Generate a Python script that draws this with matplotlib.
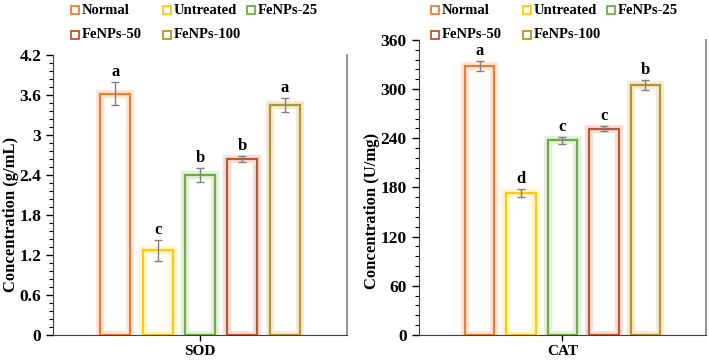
"""Bar charts of SOD and CAT concentration for each treatment group."""

import matplotlib

matplotlib.use("Agg")
import matplotlib.pyplot as plt
from matplotlib.lines import Line2D
from matplotlib.ticker import FuncFormatter, MultipleLocator

plt.rcParams["font.family"] = ["Liberation Serif", "DejaVu Serif"]
plt.rcParams["font.weight"] = "bold"

groups = ["Normal", "Untreated", "FeNPs-25", "FeNPs-50", "FeNPs-100"]
colors = ["#ED7D31", "#FFCC00", "#70AD47", "#C0552E", "#B8932A"]

sod_values = [3.62, 1.27, 2.40, 2.64, 3.45]
sod_errors = [0.17, 0.16, 0.10, 0.05, 0.11]
sod_letters = ["a", "c", "b", "b", "a"]

cat_values = [328.5, 173.5, 237.5, 251.5, 305.5]
cat_errors = [6.0, 5.0, 4.0, 3.0, 6.0]
cat_letters = ["a", "d", "c", "c", "b"]

offsets = [-2, -1, 0, 1, 2]
step = 0.144
width = 0.102

W, H = 709, 362
# legend grid (pixels from the panel's left figure edge / figure top)
legend_cols = [75, 167, 251]
legend_rows = [10, 35]


def draw_panel(ax, values, errors, letters, label, ylabel, ymax, major, minor, letter_pad,
               label_xy):
    xs = [o * step for o in offsets]
    # soft glow behind each bar outline
    ax.bar(xs, values, width=width, facecolor="none", edgecolor=colors, linewidth=6, alpha=0.18)
    ax.bar(xs, values, width=width, facecolor="none", edgecolor=colors, linewidth=1.6)
    ax.errorbar(xs, values, yerr=errors, fmt="none", ecolor="#808080", elinewidth=1,
                capsize=3, capthick=1)
    for x, v, e, t in zip(xs, values, errors, letters):
        ax.text(x, v + e + letter_pad, t, ha="center", va="bottom", fontsize=12, fontweight="bold")

    ax.set_xlim(-0.5, 0.5)
    ax.set_ylim(0, ymax)
    ax.set_xticks([0])
    ax.set_xticklabels([label], fontsize=11, fontweight="bold")
    ax.yaxis.set_major_locator(MultipleLocator(major))
    ax.yaxis.set_minor_locator(MultipleLocator(minor))
    ax.yaxis.set_major_formatter(FuncFormatter(lambda v, p: f"{round(v, 2):g}"))
    ax.set_ylabel(ylabel, fontsize=12, fontweight="bold", va="center")
    ax.yaxis.set_label_coords(*label_xy)
    ax.tick_params(axis="y", which="major", length=5, width=1, labelsize=12.5, direction="out")
    ax.tick_params(axis="y", which="minor", length=3, width=0.8, direction="out")
    ax.tick_params(axis="x", length=4, width=1, direction="out")
    ax.spines["top"].set_visible(False)
    ax.spines["right"].set_color("#808080")
    ax.spines["right"].set_linewidth(1.2)
    ax.spines["left"].set_color("#404040")
    ax.spines["bottom"].set_color("#404040")


def draw_legend(fig, x0):
    order = [(0, 0), (0, 1), (0, 2), (1, 0), (1, 1)]
    for i, (r, c) in enumerate(order):
        x = (x0 + legend_cols[c]) / W
        y = 1 - legend_rows[r] / H
        fig.add_artist(Line2D([x], [y], marker="s", markersize=5.5, linestyle="none",
                              markerfacecolor="white", markeredgecolor=colors[i],
                              markeredgewidth=1.3, transform=fig.transFigure))
        fig.text(x + 7 / W, y, groups[i], ha="left", va="center", fontsize=10.5,
                 fontweight="bold")


fig = plt.figure(figsize=(W / 100, H / 100), dpi=100)
ax1 = fig.add_axes([0.0748, 0.0746, 0.4147, 0.7735])
ax2 = fig.add_axes([0.5903, 0.0746, 0.406, 0.815])

draw_panel(ax1, sod_values, sod_errors, sod_letters, "SOD", "Concentration (g/mL)",
           4.2, 0.6, 0.12, 0.03, (-0.142, 0.43))
draw_panel(ax2, cat_values, cat_errors, cat_letters, "CAT", "Concentration (U/mg)",
           360, 60, 12, 2.5, (-0.16, 0.42))
draw_legend(fig, 0)
draw_legend(fig, 360)

fig.savefig("out.png", dpi=100)
